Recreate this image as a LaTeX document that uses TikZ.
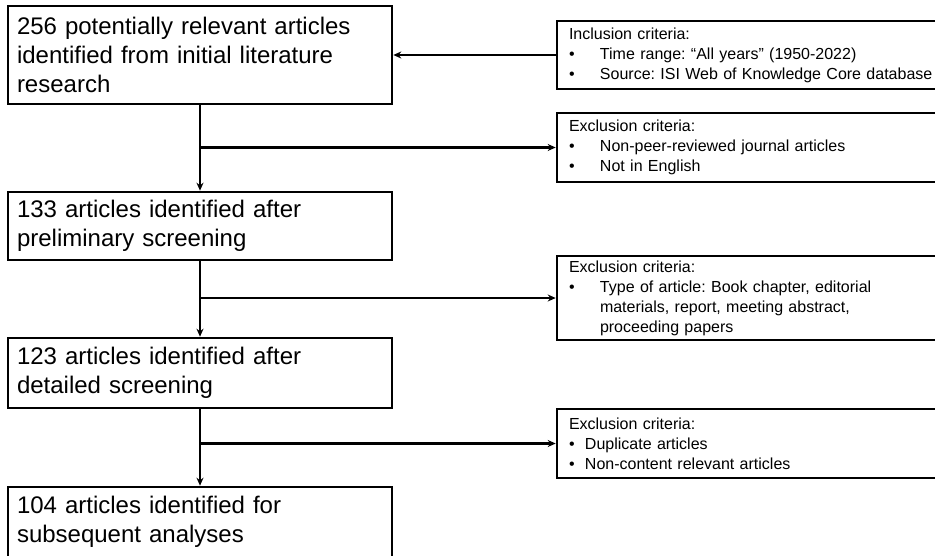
\documentclass[tikz,border=0pt]{standalone}
\usepackage{fontspec}
\setmainfont{Liberation Sans}
\usetikzlibrary{arrows.meta}
\frenchspacing

\newcommand{\critem}[2][31pt]{\makebox[#1][l]{\textbullet}#2}

\begin{document}
\begin{tikzpicture}[x=1pt, y=-1pt, >={Stealth[length=8pt,width=7pt]},
    stagebox/.style={draw, line width=2.6pt, minimum width=384pt, inner xsep=9pt,
        text width=366pt, align=left, font=\fontsize{24}{29}\selectfont},
    critbox/.style={draw, line width=2.6pt, minimum width=408pt, inner xsep=12pt,
        text width=384pt, align=left, font=\fontsize{16}{20}\selectfont},
    flow/.style={->, line width=2.3pt}]
    \useasboundingbox (0,0) rectangle (935,555);

    % Stages
    \node[stagebox, minimum height=98pt] (b1) at (200, 55) {256 potentially relevant articles\\identified from initial literature\\research};
    \node[stagebox, minimum height=68pt] (b2) at (200, 226) {133 articles identified after\\preliminary screening};
    \node[stagebox, minimum height=70pt] (b3) at (200, 373) {123 articles identified after\\detailed screening};
    \node[stagebox, minimum height=70pt] (b4) at (200, 522) {104 articles identified for\\subsequent analyses};

    % Criteria
    \node[critbox, minimum height=68pt] (e0) at (761, 55) {Inclusion criteria:\\\critem{Time range: “All years” (1950-2022)}\\\critem{Source: ISI Web of Knowledge Core database}};
    \node[critbox, minimum height=69pt] (e1) at (761, 147.5) {Exclusion criteria:\\\critem{Non-peer-reviewed journal articles}\\\critem{Not in English}};
    \node[critbox, minimum height=84pt] (e2) at (761, 298) {Exclusion criteria:\\\critem{Type of article: Book chapter, editorial}\\\hspace*{31pt}materials, report, meeting abstract,\\\hspace*{31pt}proceeding papers};
    \node[critbox, minimum height=69pt] (e3) at (761, 443.5) {Exclusion criteria:\\\critem[16pt]{Duplicate articles}\\\critem[16pt]{Non-content relevant articles}};

    % Junctions
    \coordinate (j1) at (b1.south |- e1.west);
    \coordinate (j2) at (b2.south |- e2.west);
    \coordinate (j3) at (b3.south |- e3.west);

    % Edges
    \draw[flow] (e0) -- (b1);
    \draw[flow] (b1) -- (b2);
    \draw[flow] (b2) -- (b3);
    \draw[flow] (b3) -- (b4);
    \draw[flow] (j1) -- (e1);
    \draw[flow] (j2) -- (e2);
    \draw[flow] (j3) -- (e3);
\end{tikzpicture}
\end{document}
